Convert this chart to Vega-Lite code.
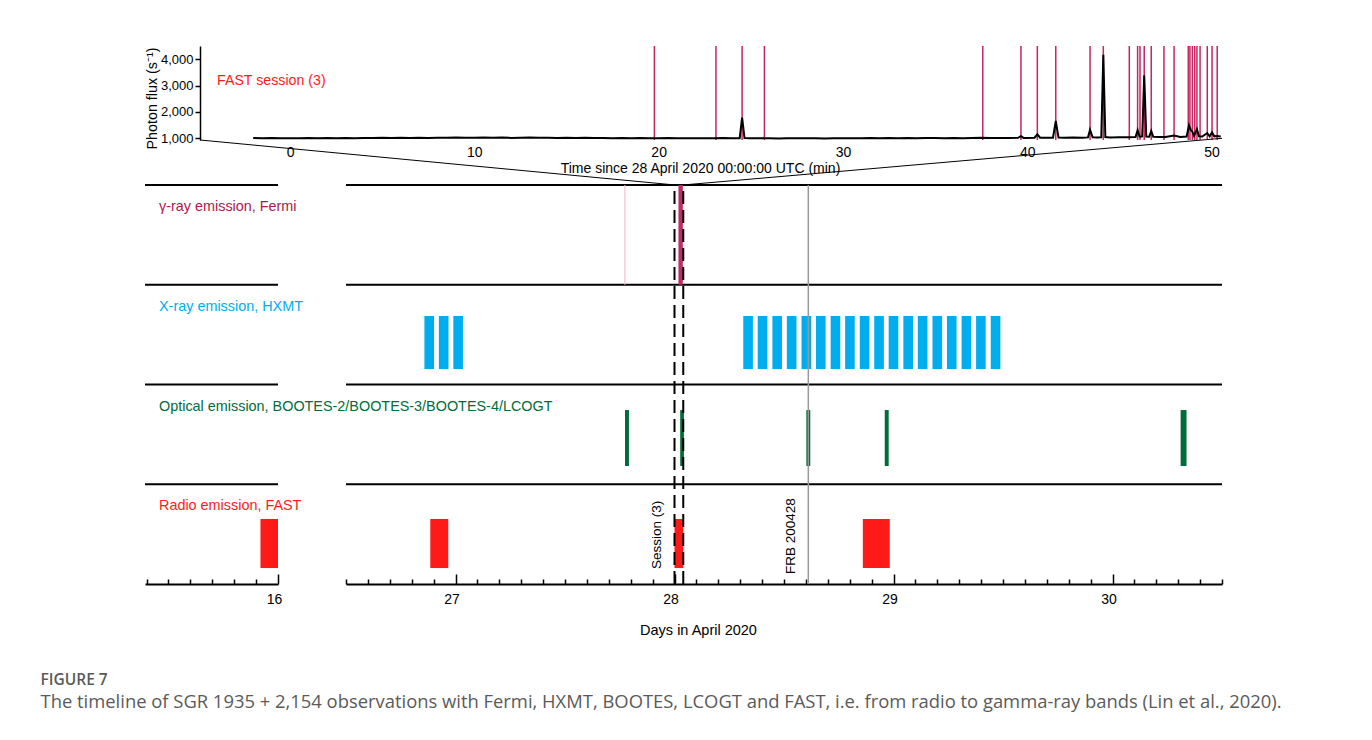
{
  "$schema": "https://vega.github.io/schema/vega-lite/v6.json",
  "padding": {"left": 40, "top": 45, "right": 150, "bottom": 20},
  "config": {
    "font": "Liberation Sans",
    "view": {"stroke": null},
    "axis": {"grid": false, "labelFont": "Liberation Sans", "titleFont": "Liberation Sans", "labelColor": "black", "titleColor": "black", "titleFontWeight": "normal", "labelFontSize": 14, "titleFontSize": 14}
  },
  "title": {
    "text": "FIGURE 7",
    "subtitle": "The timeline of SGR 1935 + 2,154 observations with Fermi, HXMT, BOOTES, LCOGT and FAST, i.e. from radio to gamma-ray bands (Lin et al., 2020).",
    "orient": "bottom",
    "anchor": "start",
    "dx": -102,
    "offset": 36,
    "font": "Open Sans",
    "fontSize": 15.5,
    "fontWeight": 600,
    "color": "#5a5a5a",
    "subtitleFont": "Open Sans",
    "subtitleFontSize": 18.4,
    "subtitleColor": "#5a5a5a",
    "subtitlePadding": 5
  },
  "datasets": {
    "flux": [
      {"minute": -2.0, "flux": 1005}, {"minute": -1.5, "flux": 995}, {"minute": -1.0, "flux": 998}, {"minute": -0.5, "flux": 992},
      {"minute": 0.0, "flux": 996}, {"minute": 0.5, "flux": 990}, {"minute": 1.0, "flux": 998}, {"minute": 1.5, "flux": 993},
      {"minute": 2.0, "flux": 1000}, {"minute": 2.5, "flux": 996}, {"minute": 3.0, "flux": 1002}, {"minute": 3.5, "flux": 994},
      {"minute": 4.0, "flux": 999}, {"minute": 4.5, "flux": 1004}, {"minute": 5.0, "flux": 1008}, {"minute": 5.5, "flux": 1001},
      {"minute": 6.0, "flux": 1010}, {"minute": 6.5, "flux": 1004}, {"minute": 7.0, "flux": 1012}, {"minute": 7.5, "flux": 1006},
      {"minute": 8.0, "flux": 1015}, {"minute": 8.5, "flux": 1008}, {"minute": 9.0, "flux": 1018}, {"minute": 9.5, "flux": 1007},
      {"minute": 10.0, "flux": 1014}, {"minute": 10.5, "flux": 1020}, {"minute": 11.0, "flux": 1009}, {"minute": 11.5, "flux": 1016},
      {"minute": 12.0, "flux": 1006}, {"minute": 12.5, "flux": 1013}, {"minute": 13.0, "flux": 1019}, {"minute": 13.5, "flux": 1008},
      {"minute": 14.0, "flux": 1012}, {"minute": 14.5, "flux": 1004}, {"minute": 15.0, "flux": 1010}, {"minute": 15.5, "flux": 1001},
      {"minute": 16.0, "flux": 1007}, {"minute": 16.5, "flux": 998}, {"minute": 17.0, "flux": 1003}, {"minute": 17.5, "flux": 995},
      {"minute": 18.0, "flux": 1000}, {"minute": 18.5, "flux": 992}, {"minute": 19.0, "flux": 997}, {"minute": 19.5, "flux": 990},
      {"minute": 20.0, "flux": 994}, {"minute": 20.5, "flux": 1000}, {"minute": 21.0, "flux": 991}, {"minute": 21.5, "flux": 996},
      {"minute": 22.0, "flux": 988}, {"minute": 22.5, "flux": 994}, {"minute": 23.0, "flux": 990}, {"minute": 23.5, "flux": 997},
      {"minute": 24.0, "flux": 992}, {"minute": 24.4, "flux": 995}, {"minute": 24.53, "flux": 1775}, {"minute": 24.66, "flux": 998},
      {"minute": 25.0, "flux": 993}, {"minute": 25.5, "flux": 989}, {"minute": 26.0, "flux": 996}, {"minute": 26.5, "flux": 985},
      {"minute": 27.0, "flux": 992}, {"minute": 27.5, "flux": 987}, {"minute": 28.0, "flux": 995}, {"minute": 28.5, "flux": 990},
      {"minute": 29.0, "flux": 984}, {"minute": 29.5, "flux": 993}, {"minute": 30.0, "flux": 988}, {"minute": 30.5, "flux": 996},
      {"minute": 31.0, "flux": 990}, {"minute": 31.5, "flux": 998}, {"minute": 32.0, "flux": 992}, {"minute": 32.5, "flux": 1002},
      {"minute": 33.0, "flux": 995}, {"minute": 33.5, "flux": 1000}, {"minute": 34.0, "flux": 993}, {"minute": 34.5, "flux": 1004},
      {"minute": 35.0, "flux": 997}, {"minute": 35.5, "flux": 992}, {"minute": 36.0, "flux": 999}, {"minute": 36.5, "flux": 994},
      {"minute": 37.0, "flux": 1001}, {"minute": 37.5, "flux": 1006}, {"minute": 38.0, "flux": 998}, {"minute": 38.5, "flux": 1003},
      {"minute": 39.0, "flux": 999}, {"minute": 39.5, "flux": 1006}, {"minute": 39.66, "flux": 1070}, {"minute": 39.8, "flux": 1005},
      {"minute": 40.0, "flux": 1000}, {"minute": 40.4, "flux": 1012}, {"minute": 40.55, "flux": 1140}, {"minute": 40.7, "flux": 1015},
      {"minute": 41.0, "flux": 1010}, {"minute": 41.4, "flux": 1012}, {"minute": 41.55, "flux": 1650}, {"minute": 41.7, "flux": 1018},
      {"minute": 42.0, "flux": 1010}, {"minute": 42.5, "flux": 1020}, {"minute": 43.0, "flux": 1012}, {"minute": 43.3, "flux": 1025},
      {"minute": 43.41, "flux": 1320}, {"minute": 43.55, "flux": 1030}, {"minute": 43.8, "flux": 1022}, {"minute": 44.02, "flux": 1030},
      {"minute": 44.13, "flux": 4170}, {"minute": 44.24, "flux": 1035}, {"minute": 44.5, "flux": 1025}, {"minute": 45.0, "flux": 1030},
      {"minute": 45.5, "flux": 1028}, {"minute": 45.88, "flux": 1040}, {"minute": 45.99, "flux": 1300}, {"minute": 46.1, "flux": 1050},
      {"minute": 46.24, "flux": 1060}, {"minute": 46.35, "flux": 3390}, {"minute": 46.46, "flux": 1060}, {"minute": 46.62, "flux": 1050},
      {"minute": 46.73, "flux": 1270}, {"minute": 46.84, "flux": 1045}, {"minute": 47.2, "flux": 1035}, {"minute": 47.5, "flux": 1040},
      {"minute": 47.97, "flux": 1100}, {"minute": 48.3, "flux": 1040}, {"minute": 48.65, "flux": 1060}, {"minute": 48.78, "flux": 1480},
      {"minute": 48.88, "flux": 1300}, {"minute": 48.96, "flux": 1250}, {"minute": 49.05, "flux": 1080}, {"minute": 49.21, "flux": 1340},
      {"minute": 49.32, "flux": 1070}, {"minute": 49.5, "flux": 1060}, {"minute": 49.77, "flux": 1190}, {"minute": 49.9, "flux": 1060},
      {"minute": 50.03, "flux": 1220}, {"minute": 50.15, "flux": 1065}, {"minute": 50.3, "flux": 1080}, {"minute": 50.5, "flux": 1060}
    ],
    "bursts": [
      {"minute": 19.77}, {"minute": 23.11}, {"minute": 24.53}, {"minute": 25.74}, {"minute": 37.59}, {"minute": 39.66},
      {"minute": 40.55}, {"minute": 41.55}, {"minute": 43.41}, {"minute": 44.13}, {"minute": 45.54}, {"minute": 45.99},
      {"minute": 46.12}, {"minute": 46.35}, {"minute": 46.73}, {"minute": 47.42}, {"minute": 47.97}, {"minute": 48.74},
      {"minute": 48.83}, {"minute": 48.96}, {"minute": 49.09}, {"minute": 49.21}, {"minute": 49.38}, {"minute": 49.77},
      {"minute": 50.03}, {"minute": 50.31}
    ],
    "bands": [
      {"band": "γ-ray emission, Fermi", "top": 4},
      {"band": "X-ray emission, HXMT", "top": 3},
      {"band": "Optical emission, BOOTES-2/BOOTES-3/BOOTES-4/LCOGT", "top": 2},
      {"band": "Radio emission, FAST", "top": 1}
    ],
    "obs": [
      {"band": "γ-ray emission, Fermi", "start": 27.771, "end": 27.776, "kind": "faint"},
      {"band": "γ-ray emission, Fermi", "start": 28.018, "end": 28.038, "kind": "bright"},
      {"band": "X-ray emission, HXMT", "start": 26.858, "end": 26.902},
      {"band": "X-ray emission, HXMT", "start": 26.924, "end": 26.968},
      {"band": "X-ray emission, HXMT", "start": 26.990, "end": 27.034},
      {"band": "X-ray emission, HXMT", "start": 28.314, "end": 28.358},
      {"band": "X-ray emission, HXMT", "start": 28.380, "end": 28.424},
      {"band": "X-ray emission, HXMT", "start": 28.447, "end": 28.491},
      {"band": "X-ray emission, HXMT", "start": 28.513, "end": 28.557},
      {"band": "X-ray emission, HXMT", "start": 28.580, "end": 28.624},
      {"band": "X-ray emission, HXMT", "start": 28.646, "end": 28.690},
      {"band": "X-ray emission, HXMT", "start": 28.713, "end": 28.757},
      {"band": "X-ray emission, HXMT", "start": 28.779, "end": 28.823},
      {"band": "X-ray emission, HXMT", "start": 28.846, "end": 28.890},
      {"band": "X-ray emission, HXMT", "start": 28.912, "end": 28.956},
      {"band": "X-ray emission, HXMT", "start": 28.978, "end": 29.022},
      {"band": "X-ray emission, HXMT", "start": 29.045, "end": 29.089},
      {"band": "X-ray emission, HXMT", "start": 29.111, "end": 29.155},
      {"band": "X-ray emission, HXMT", "start": 29.178, "end": 29.222},
      {"band": "X-ray emission, HXMT", "start": 29.244, "end": 29.288},
      {"band": "X-ray emission, HXMT", "start": 29.311, "end": 29.355},
      {"band": "X-ray emission, HXMT", "start": 29.377, "end": 29.421},
      {"band": "X-ray emission, HXMT", "start": 29.444, "end": 29.488},
      {"band": "Optical emission, BOOTES-2/BOOTES-3/BOOTES-4/LCOGT", "start": 27.774, "end": 27.792},
      {"band": "Optical emission, BOOTES-2/BOOTES-3/BOOTES-4/LCOGT", "start": 28.026, "end": 28.043},
      {"band": "Optical emission, BOOTES-2/BOOTES-3/BOOTES-4/LCOGT", "start": 28.602, "end": 28.620},
      {"band": "Optical emission, BOOTES-2/BOOTES-3/BOOTES-4/LCOGT", "start": 28.960, "end": 28.978},
      {"band": "Optical emission, BOOTES-2/BOOTES-3/BOOTES-4/LCOGT", "start": 30.311, "end": 30.338},
      {"band": "Radio emission, FAST", "start": 15.920, "end": 16.0},
      {"band": "Radio emission, FAST", "start": 26.885, "end": 26.967},
      {"band": "Radio emission, FAST", "start": 28.0, "end": 28.04, "label": "Session (3)"},
      {"band": "Radio emission, FAST", "start": 28.86, "end": 28.983}
    ],
    "events": [
      {"event": "FRB 200428", "day": 28.611}
    ]
  },
  "spacing": 45,
  "bounds": "flush",
  "vconcat": [
    {
      "width": 1077,
      "height": 94,
      "layer": [
        {
          "data": {"values": [{"session": "FAST session (3)"}]},
          "mark": {"type": "text", "align": "left", "baseline": "middle", "fontSize": 14.2, "color": "#ff1a1a"},
          "encoding": {
            "x": {"datum": -3.96, "type": "quantitative", "scale": {"domain": [-7.87, 50.57], "nice": false, "zero": false}},
            "y": {"datum": 3170, "type": "quantitative", "scale": {"domain": [925, 4508], "nice": false, "zero": false}},
            "text": {"field": "session", "type": "nominal"}
          }
        },
        {
          "data": {"name": "bursts"},
          "mark": {"type": "rule", "color": "#c8245f", "strokeWidth": 1.5},
          "encoding": {
            "x": {"field": "minute", "type": "quantitative", "scale": {"domain": [-7.87, 50.57], "nice": false, "zero": false}}
          }
        },
        {
          "data": {"name": "flux"},
          "mark": {"type": "line", "color": "black", "strokeWidth": 2},
          "encoding": {
            "x": {"field": "minute", "type": "quantitative", "scale": {"domain": [-7.87, 50.57], "nice": false, "zero": false},
              "axis": {"values": [0, 10, 20, 30, 40, 50], "tickCount": 100, "format": ".0f", "domain": false, "ticks": false, "labelPadding": 5, "labelFlush": false, "labelOverlap": false,
                "title": "Time since 28 April 2020 00:00:00 UTC (min)", "titlePadding": 2, "titleX": 555, "titleAlign": "center"}},
            "y": {"field": "flux", "type": "quantitative", "scale": {"domain": [925, 4508], "nice": false, "zero": false},
              "axis": {"offset": -55, "values": [1000, 2000, 3000, 4000], "tickCount": 100, "format": ",.0f", "labelOverlap": false, "labelFontSize": 13,
                "title": "Photon flux (s⁻¹)", "titleFontSize": 14.3, "titleY": 52,
                "titlePadding": 1, "labelPadding": 2, "tickSize": 5, "tickWidth": 1.5, "tickColor": "black",
                "domainColor": "black", "domainWidth": 1.5}}
          }
        },
        {
          "data": {"values": [{}]},
          "mark": {"type": "rule", "color": "black", "strokeWidth": 1},
          "encoding": {"x": {"datum": -4.88}, "y": {"datum": 925}, "x2": {"datum": 20.89}, "y2": {"datum": -790}}
        },
        {
          "data": {"values": [{}]},
          "mark": {"type": "rule", "color": "black", "strokeWidth": 1},
          "encoding": {"x": {"datum": 50.57}, "y": {"datum": 990}, "x2": {"datum": 21.32}, "y2": {"datum": -790}}
        }
      ]
    },
    {
      "spacing": 68,
      "bounds": "flush",
      "hconcat": [
        {
          "width": 133,
          "height": 399,
          "layer": [
            {
              "data": {"name": "bands"},
              "mark": {"type": "rule", "color": "black", "strokeWidth": 2},
              "encoding": {"y": {"field": "top", "type": "quantitative", "scale": {"domain": [0, 4], "nice": false, "zero": false}, "axis": null}}
            },
            {
              "data": {"name": "obs"},
              "transform": [{"filter": "datum.band === 'Radio emission, FAST'"}],
              "mark": {"type": "rect", "color": "#ff1a1a", "clip": true},
              "encoding": {
                "x": {"field": "start", "type": "quantitative", "scale": {"domain": [15.393, 16], "nice": false, "zero": false},
                  "axis": {"values": [15.4, 15.5, 15.6, 15.7, 15.8, 15.9, 16], "tickCount": 100, "labelExpr": "datum.value % 1 === 0 ? format(datum.value, 'd') : ''",
                    "tickSize": {"condition": {"test": "datum.value % 1 === 0", "value": -10}, "value": -5},
                    "title": null, "labelFlush": false, "labelOverlap": false, "labelPadding": 18, "labelOffset": -4,
                    "domainColor": "black", "domainWidth": 2, "tickColor": "black", "tickWidth": 1.5}},
                "x2": {"field": "end"},
                "y": {"datum": 0.16},
                "y2": {"datum": 0.652}
              }
            },
            {
              "data": {"name": "bands"},
              "mark": {"type": "text", "align": "left", "baseline": "middle", "dy": 22, "fontSize": 14.4},
              "encoding": {
                "x": {"datum": 15.457},
                "y": {"field": "top", "type": "quantitative"},
                "text": {"field": "band"},
                "color": {"field": "band", "type": "nominal", "legend": null,
                  "scale": {"domain": ["γ-ray emission, Fermi", "X-ray emission, HXMT", "Optical emission, BOOTES-2/BOOTES-3/BOOTES-4/LCOGT", "Radio emission, FAST"],
                    "range": ["#b0174d", "#00aeef", "#006c3a", "#ff1a1a"]}}
              }
            }
          ]
        },
        {
          "width": 876,
          "height": 399,
          "layer": [
            {
              "data": {"name": "bands"},
              "mark": {"type": "rule", "color": "black", "strokeWidth": 2},
              "encoding": {"y": {"field": "top", "type": "quantitative", "scale": {"domain": [0, 4], "nice": false, "zero": false}, "axis": null}}
            },
            {
              "data": {"name": "obs"},
              "transform": [{"filter": "datum.band === 'X-ray emission, HXMT'"}],
              "mark": {"type": "rect", "color": "#00aeef", "clip": true},
              "encoding": {
                "x": {"field": "start", "type": "quantitative", "scale": {"domain": [26.5, 30.5], "nice": false, "zero": false},
                  "axis": {"values": [26.5, 26.6, 26.7, 26.8, 26.9, 27, 27.1, 27.2, 27.3, 27.4, 27.5, 27.6, 27.7, 27.8, 27.9, 28, 28.1, 28.2, 28.3, 28.4, 28.5, 28.6, 28.7, 28.8, 28.9, 29, 29.1, 29.2, 29.3, 29.4, 29.5, 29.6, 29.7, 29.8, 29.9, 30, 30.1, 30.2, 30.3, 30.4, 30.5],
                    "tickCount": 100,
                    "labelExpr": "datum.value % 1 === 0 ? format(datum.value, 'd') : ''",
                    "tickSize": {"condition": {"test": "datum.value % 1 === 0", "value": -10}, "value": -5},
                    "title": "Days in April 2020", "titleFontSize": 14.5, "titleX": 352, "titleY": 46, "titleAlign": "center", "titleBaseline": "middle",
                    "labelFlush": false, "labelOverlap": false, "labelPadding": 18, "labelOffset": -4,
                    "domainColor": "black", "domainWidth": 2, "tickColor": "black", "tickWidth": 1.5}},
                "x2": {"field": "end"},
                "y": {"datum": 2.155},
                "y2": {"datum": 2.687}
              }
            },
            {
              "data": {"name": "obs"},
              "transform": [{"filter": "datum.kind === 'faint'"}],
              "mark": {"type": "rect", "color": "#f4b9cb", "clip": true},
              "encoding": {
                "x": {"field": "start", "type": "quantitative", "scale": {"domain": [26.5, 30.5], "nice": false, "zero": false}},
                "x2": {"field": "end"},
                "y": {"datum": 3},
                "y2": {"datum": 4}
              }
            },
            {
              "data": {"name": "obs"},
              "transform": [{"filter": "datum.kind === 'bright'"}],
              "mark": {"type": "rect", "color": "#bd2c63", "clip": true},
              "encoding": {
                "x": {"field": "start", "type": "quantitative", "scale": {"domain": [26.5, 30.5], "nice": false, "zero": false}},
                "x2": {"field": "end"},
                "y": {"datum": 3},
                "y2": {"datum": 4}
              }
            },
            {
              "data": {"name": "obs"},
              "transform": [{"filter": "datum.band === 'Optical emission, BOOTES-2/BOOTES-3/BOOTES-4/LCOGT'"}],
              "mark": {"type": "rect", "color": "#006c3a", "clip": true},
              "encoding": {
                "x": {"field": "start", "type": "quantitative", "scale": {"domain": [26.5, 30.5], "nice": false, "zero": false}},
                "x2": {"field": "end"},
                "y": {"datum": 1.183},
                "y2": {"datum": 1.744}
              }
            },
            {
              "data": {"name": "obs"},
              "transform": [{"filter": "datum.band === 'Radio emission, FAST'"}],
              "mark": {"type": "rect", "color": "#ff1a1a", "clip": true},
              "encoding": {
                "x": {"field": "start", "type": "quantitative", "scale": {"domain": [26.5, 30.5], "nice": false, "zero": false}},
                "x2": {"field": "end"},
                "y": {"datum": 0.16},
                "y2": {"datum": 0.652}
              }
            },
            {
              "data": {"name": "obs"},
              "transform": [{"filter": "datum.label != null"}],
              "mark": {"type": "rule", "color": "black", "strokeWidth": 2, "strokeDash": [13, 6]},
              "encoding": {
                "x": {"field": "start", "type": "quantitative", "scale": {"domain": [26.5, 30.5], "nice": false, "zero": false}},
                "y": {"datum": 0},
                "y2": {"datum": 4}
              }
            },
            {
              "data": {"name": "obs"},
              "transform": [{"filter": "datum.label != null"}],
              "mark": {"type": "rule", "color": "black", "strokeWidth": 2, "strokeDash": [13, 6]},
              "encoding": {
                "x": {"field": "end", "type": "quantitative", "scale": {"domain": [26.5, 30.5], "nice": false, "zero": false}},
                "y": {"datum": 0},
                "y2": {"datum": 4}
              }
            },
            {
              "data": {"name": "obs"},
              "transform": [{"filter": "datum.label != null"}],
              "mark": {"type": "text", "angle": 270, "align": "left", "baseline": "middle", "dy": -17.5, "fontSize": 13.5, "color": "black"},
              "encoding": {
                "x": {"field": "start", "type": "quantitative", "scale": {"domain": [26.5, 30.5], "nice": false, "zero": false}},
                "y": {"datum": 0.15},
                "text": {"field": "label"}
              }
            },
            {
              "data": {"name": "events"},
              "mark": {"type": "rule", "color": "#999999", "strokeWidth": 1.5},
              "encoding": {
                "x": {"field": "day", "type": "quantitative", "scale": {"domain": [26.5, 30.5], "nice": false, "zero": false}},
                "y": {"datum": 0},
                "y2": {"datum": 4}
              }
            },
            {
              "data": {"name": "events"},
              "mark": {"type": "text", "angle": 270, "align": "left", "baseline": "middle", "dy": -17.5, "fontSize": 13.5, "color": "black"},
              "encoding": {
                "x": {"field": "day", "type": "quantitative", "scale": {"domain": [26.5, 30.5], "nice": false, "zero": false}},
                "y": {"datum": 0.1},
                "text": {"field": "event"}
              }
            }
          ]
        }
      ]
    }
  ]
}
